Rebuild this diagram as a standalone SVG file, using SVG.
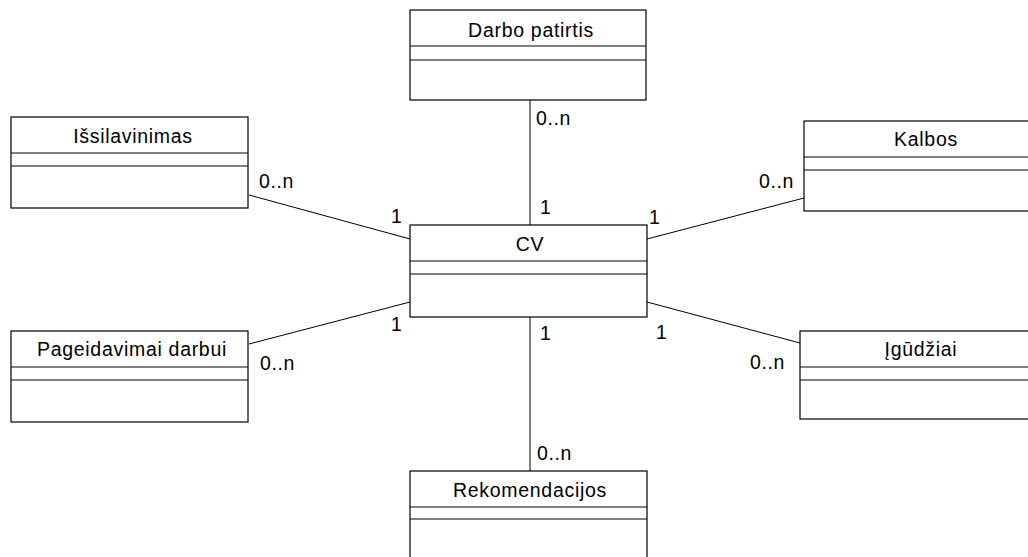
<svg xmlns="http://www.w3.org/2000/svg" width="1028" height="557" viewBox="0 0 1028 557">
  <style>
    .box { fill: #fff; stroke: #000; stroke-width: 1.2; }
    .sep { stroke: #000; stroke-width: 1; }
    .title { font-family: "Liberation Sans", Arial, sans-serif; font-size: 19.5px; letter-spacing: 0.7px; fill: #000; text-anchor: middle; }
    .mult { font-family: "Liberation Sans", Arial, sans-serif; font-size: 19.5px; letter-spacing: 0.6px; fill: #000; }
    .conn { stroke: #000; stroke-width: 1; fill: none; }
  </style>

  <!-- connectors -->
  <g id="connectors">
    <line class="conn" x1="530" y1="100" x2="530" y2="225"/>
    <line class="conn" x1="530" y1="317" x2="530" y2="471"/>
    <line class="conn" x1="249" y1="195" x2="410" y2="239"/>
    <line class="conn" x1="647" y1="239" x2="804" y2="198"/>
    <line class="conn" x1="249" y1="344" x2="410" y2="302"/>
    <line class="conn" x1="647" y1="302" x2="800" y2="343"/>
    <text class="mult" x="536" y="125">0..n</text>
    <text class="mult" x="540" y="214">1</text>
    <text class="mult" x="259" y="188">0..n</text>
    <text class="mult" x="391" y="223">1</text>
    <text class="mult" x="649" y="224">1</text>
    <text class="mult" x="759" y="188">0..n</text>
    <text class="mult" x="391" y="331">1</text>
    <text class="mult" x="260" y="370">0..n</text>
    <text class="mult" x="540" y="340">1</text>
    <text class="mult" x="656" y="339">1</text>
    <text class="mult" x="750" y="369">0..n</text>
    <text class="mult" x="537" y="460">0..n</text>
  </g>

  <g id="darbo-patirtis">
    <rect class="box" x="410" y="10" width="236" height="90"/>
    <line class="sep" x1="410" y1="46" x2="646" y2="46"/>
    <line class="sep" x1="410" y1="60" x2="646" y2="60"/>
    <text class="title" x="531" y="37">Darbo patirtis</text>
  </g>

  <g id="issilavinimas">
    <rect class="box" x="11" y="117" width="237" height="91"/>
    <line class="sep" x1="11" y1="153" x2="248" y2="153"/>
    <line class="sep" x1="11" y1="166" x2="248" y2="166"/>
    <text class="title" x="133" y="143">Išsilavinimas</text>
  </g>

  <g id="kalbos">
    <rect class="box" x="804" y="121" width="237" height="90"/>
    <line class="sep" x1="804" y1="157" x2="1041" y2="157"/>
    <line class="sep" x1="804" y1="170" x2="1041" y2="170"/>
    <text class="title" x="926" y="146">Kalbos</text>
  </g>

  <g id="cv">
    <rect class="box" x="410" y="225" width="237" height="92"/>
    <line class="sep" x1="410" y1="261" x2="647" y2="261"/>
    <line class="sep" x1="410" y1="274" x2="647" y2="274"/>
    <text class="title" x="530" y="251">CV</text>
  </g>

  <g id="pageidavimai-darbui">
    <rect class="box" x="11" y="331" width="237" height="91"/>
    <line class="sep" x1="11" y1="367" x2="248" y2="367"/>
    <line class="sep" x1="11" y1="380" x2="248" y2="380"/>
    <text class="title" x="132" y="356">Pageidavimai darbui</text>
  </g>

  <g id="igudziai">
    <rect class="box" x="800" y="331" width="237" height="88"/>
    <line class="sep" x1="800" y1="367" x2="1037" y2="367"/>
    <line class="sep" x1="800" y1="380" x2="1037" y2="380"/>
    <text class="title" x="921" y="356">Įgūdžiai</text>
  </g>

  <g id="rekomendacijos">
    <rect class="box" x="410" y="471" width="237" height="92"/>
    <line class="sep" x1="410" y1="507" x2="647" y2="507"/>
    <line class="sep" x1="410" y1="519" x2="647" y2="519"/>
    <text class="title" x="530" y="497">Rekomendacijos</text>
  </g>
</svg>
